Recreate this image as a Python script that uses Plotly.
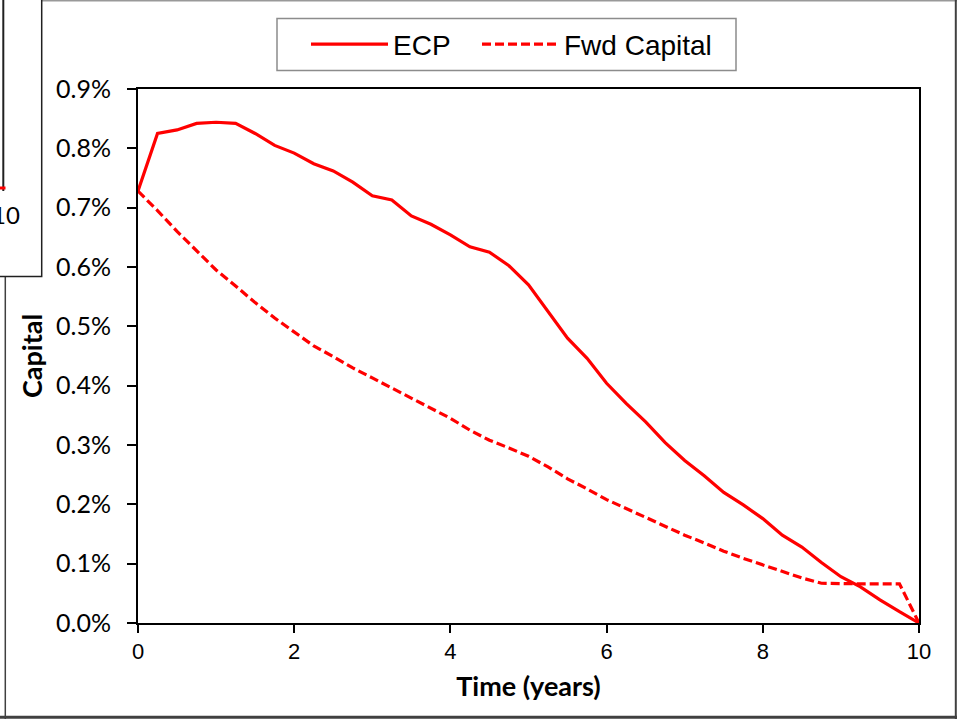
import plotly.graph_objects as go

# ---- data (values in percent) ----
time_years = [0, 0.25, 0.5, 0.75, 1, 1.25, 1.5, 1.75, 2, 2.25, 2.5, 2.75, 3, 3.25, 3.5, 3.75,
              4, 4.25, 4.5, 4.75, 5, 5.25, 5.5, 5.75, 6, 6.25, 6.5, 6.75, 7, 7.25, 7.5, 7.75,
              8, 8.25, 8.5, 8.75, 9, 9.25, 9.5, 9.75, 10]
ecp = [0.728, 0.825, 0.831, 0.842, 0.844, 0.842, 0.825, 0.805, 0.792, 0.774, 0.762, 0.743,
       0.720, 0.713, 0.686, 0.672, 0.654, 0.634, 0.625, 0.602, 0.570, 0.525, 0.480, 0.446,
       0.404, 0.370, 0.339, 0.304, 0.274, 0.248, 0.220, 0.199, 0.176, 0.148, 0.128, 0.102,
       0.078, 0.061, 0.039, 0.019, 0.000]
fwd_capital = [0.728, 0.695, 0.660, 0.627, 0.595, 0.568, 0.540, 0.514, 0.490, 0.467, 0.449,
               0.430, 0.413, 0.396, 0.378, 0.362, 0.345, 0.325, 0.308, 0.295, 0.281, 0.263,
               0.243, 0.226, 0.208, 0.193, 0.178, 0.162, 0.148, 0.135, 0.121, 0.109, 0.098,
               0.087, 0.076, 0.067, 0.066, 0.066, 0.066, 0.066, 0.000]
series_names = ["ECP", "Fwd Capital"]
x_title = "Time (years)"
y_title = "Capital"

W, H = 957, 719
L, R, T, B = 138, 919, 89, 623  # plot area in pixels


def px(x):
    return (x - L) / (R - L)


def py(y):
    return (B - y) / (B - T)


fig = go.Figure()
fig.add_trace(go.Scatter(x=time_years, y=ecp, mode="lines", name=series_names[0],
                         line=dict(color="#FF0000", width=3.2), legend="legend"))
fig.add_trace(go.Scatter(x=time_years, y=fwd_capital, mode="lines", name=series_names[1],
                         line=dict(color="#FF0000", width=3.2, dash="9px,4px"), legend="legend2"))

calib = "Lato, Carlito, Calibri, sans-serif"
arial = "Liberation Sans, Arial, sans-serif"

shapes = []
# outer chart frame
shapes.append(dict(type="line", xref="paper", yref="paper", x0=px(42), x1=px(957), y0=py(0.7), y1=py(0.7),
                   line=dict(color="#999999", width=1.5)))
shapes.append(dict(type="line", xref="paper", yref="paper", x0=px(955.8), x1=px(955.8), y0=py(0), y1=py(719),
                   line=dict(color="#404040", width=2)))
shapes.append(dict(type="line", xref="paper", yref="paper", x0=px(0), x1=px(957), y0=py(717.3), y1=py(717.3),
                   line=dict(color="#404040", width=3)))
shapes.append(dict(type="line", xref="paper", yref="paper", x0=px(5.3), x1=px(5.3), y0=py(276), y1=py(719),
                   line=dict(color="#404040", width=1.5)))
# overlapping neighbouring chart box (top-left)
shapes.append(dict(type="rect", xref="paper", yref="paper", x0=px(-10), x1=px(41.7), y0=py(-10), y1=py(276.5),
                   fillcolor="white", line=dict(color="#202020", width=1.5)))
shapes.append(dict(type="line", xref="paper", yref="paper", x0=px(3.3), x1=px(3.3), y0=py(-2), y1=py(191),
                   line=dict(color="#202020", width=2)))
shapes.append(dict(type="line", xref="paper", yref="paper", x0=px(-2), x1=px(5.5), y0=py(188), y1=py(188),
                   line=dict(color="#FF0000", width=3)))
# legend frame
shapes.append(dict(type="rect", xref="paper", yref="paper", x0=px(277), x1=px(736), y0=py(18.5), y1=py(70.5),
                   fillcolor="white", line=dict(color="#8c8c8c", width=1.5)))

legend_common = dict(orientation="h", xanchor="left", yanchor="middle", y=py(44.5),
                     borderwidth=0, bgcolor="rgba(0,0,0,0)",
                     font=dict(family=arial, size=28, color="black"),
                     itemwidth=77, tracegroupgap=0)

fig.update_layout(
    width=W, height=H,
    margin=dict(l=L, r=W - R, t=T, b=H - B, pad=0),
    paper_bgcolor="white", plot_bgcolor="white",
    showlegend=True,
    legend=dict(x=px(306), **legend_common),
    legend2=dict(x=px(477), **legend_common),
    xaxis=dict(range=[0, 10], dtick=2, tick0=0, showline=True, linecolor="black", linewidth=2,
               mirror=True, ticks="outside", ticklen=8, tickwidth=1.5, tickcolor="black",
               showgrid=False, zeroline=False,
               tickfont=dict(family=arial, size=22, color="black"),
               title=dict(text=x_title, font=dict(family=calib, size=27, color="black", weight="bold"),
                          standoff=14)),
    yaxis=dict(range=[0, 0.9], dtick=0.1, tick0=0, tickformat=".1f", ticksuffix="%",
               showline=True, linecolor="black", linewidth=2, mirror=True,
               ticks="outside", ticklen=9, tickwidth=1.5, tickcolor="black",
               ticklabelstandoff=11,
               showgrid=False, zeroline=False,
               tickfont=dict(family=calib, size=25, color="black"),
               title=dict(text=y_title, font=dict(family=calib, size=27, color="black", weight="bold"),
                          standoff=6)),
    shapes=shapes,
    annotations=[dict(xref="paper", yref="paper", x=px(21.5), y=py(214), xanchor="right", yanchor="middle",
                      text="10", showarrow=False, font=dict(family=calib, size=24, color="black"))],
)

fig.write_html("out.html", post_script="document.body.style.margin='0px';",
               config={"displayModeBar": False})
